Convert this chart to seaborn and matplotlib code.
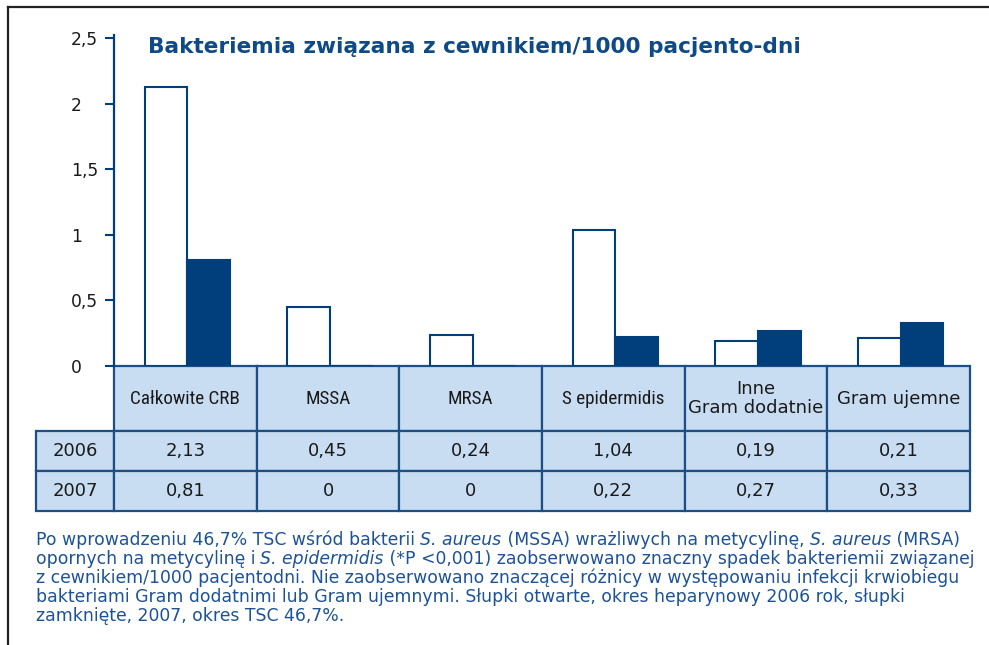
import matplotlib
matplotlib.use("Agg")
import matplotlib.pyplot as plt
import seaborn as sns
import pandas as pd
from matplotlib import font_manager as fm
from matplotlib.lines import Line2D

# ---------------- data ----------------
categories = ["Całkowite CRB", "MSSA", "MRSA", "S epidermidis",
              "Inne\nGram dodatnie", "Gram ujemne"]
years = ["2006", "2007"]
values_2006 = [2.13, 0.45, 0.24, 1.04, 0.19, 0.21]
values_2007 = [0.81, 0, 0, 0.22, 0.27, 0.33]
yticks = [0, 0.5, 1, 1.5, 2, 2.5]
ytick_labels = ["0", "0,5", "1", "1,5", "2", "2,5"]
title = "Bakteriemia związana z cewnikiem/1000 pacjento-dni"
# caption: each line is a list of (text, italic) segments
caption_segments = [
    [("Po wprowadzeniu 46,7% TSC wśród bakterii ", False), ("S. aureus", True),
     (" (MSSA) wrażliwych na metycylinę, ", False), ("S. aureus", True), (" (MRSA)", False)],
    [("opornych na metycylinę i ", False), ("S. epidermidis", True),
     (" (*P <0,001) zaobserwowano znaczny spadek bakteriemii związanej", False)],
    [("z cewnikiem/1000 pacjentodni. Nie zaobserwowano znaczącej różnicy w występowaniu infekcji krwiobiegu", False)],
    [("bakteriami Gram dodatnimi lub Gram ujemnymi. Słupki otwarte, okres heparynowy 2006 rok, słupki", False)],
    [("zamknięte, 2007, okres TSC 46,7%.", False)],
]

# ---------------- style ----------------
NAVY = "#003e7c"
EDGE = "#1d4f87"
LIGHT = "#c9ddf2"
TITLE_C = "#0e4a85"
CAPTION_C = "#1c52978"[:7]
TEXT_C = "#1a1a1a"

names = {f.name for f in fm.fontManager.ttflist}
narrow = None
narrow_stretch = "normal"
for cand in ["Liberation Sans Narrow", "Roboto Condensed", "Open Sans Condensed",
             "DejaVu Sans Condensed", "Noto Sans Condensed"]:
    if cand in names:
        narrow = cand
        break
if narrow is None:
    narrow = "DejaVu Sans"
    if any(f.name == "DejaVu Sans" and f.stretch != "normal" for f in fm.fontManager.ttflist):
        narrow_stretch = "condensed"

plt.rcParams["font.family"] = ["DejaVu Sans"]

W, H = 989, 645
fig = plt.figure(figsize=(W / 100, H / 100), dpi=100)
fig.patch.set_facecolor("white")


def fx(px):
    return px / W


def fy(py):
    return 1 - py / H


AX_L, AX_R, AX_B, AX_T = 114, 970, 366, 35.2
ax = fig.add_axes([fx(AX_L), fy(AX_B), fx(AX_R) - fx(AX_L), fy(AX_T) - fy(AX_B)])

df = pd.DataFrame({
    "cat": categories * 2,
    "year": [years[0]] * len(categories) + [years[1]] * len(categories),
    "val": values_2006 + values_2007,
})
sns.barplot(data=df, x="cat", y="val", hue="year", order=categories,
            hue_order=years, palette={years[0]: "white", years[1]: NAVY},
            width=0.6, gap=0, edgecolor=NAVY, linewidth=1.5, saturation=1,
            errorbar=None, legend=False, ax=ax)

shift = -2.0 / ((AX_R - AX_L) / len(categories))
ax.set_xlim(-0.5 + shift, len(categories) - 0.5 + shift)
ax.set_ylim(0, 2.525)
ax.set_yticks(yticks)
ax.set_yticklabels(ytick_labels)
ax.set_xticks([])
ax.set_xlabel("")
ax.set_ylabel("")
ax.tick_params(axis="y", left=True, direction="out", length=6.5, width=1.5,
               color=NAVY, pad=24.5, labelsize=12.3, labelcolor=TEXT_C)
for lab in ax.get_yticklabels():
    lab.set_horizontalalignment("left")
for s in ["top", "right", "bottom"]:
    ax.spines[s].set_visible(False)
ax.spines["left"].set_color(NAVY)
ax.spines["left"].set_linewidth(1.6)
ax.patch.set_alpha(0)

# ---------------- table ----------------
def fmt(v):
    return "0" if v == 0 else f"{v:.2f}".replace(".", ",")


cell_text = [[years[0]] + [fmt(v) for v in values_2006],
             [years[1]] + [fmt(v) for v in values_2007]]
col_labels = [""] + categories
col_px = [78] + [(AX_R - AX_L) / len(categories)] * len(categories)
tot = sum(col_px)
ax_w = AX_R - AX_L
ax_h = AX_B - AX_T
tbl = ax.table(cellText=cell_text, colLabels=col_labels,
               colWidths=[c / tot for c in col_px], cellLoc="center", colLoc="center",
               bbox=[(36 - AX_L) / ax_w, -(511 - AX_B) / ax_h, tot / ax_w, (511 - AX_B) / ax_h])
tbl.auto_set_font_size(False)
for (r, c), cell in tbl.get_celld().items():
    cell.set_height(65 if r == 0 else 40)
    cell.set_facecolor(LIGHT)
    cell.set_edgecolor(EDGE)
    cell.set_linewidth(1.6)
    t = cell.get_text()
    t.set_color(TEXT_C)
    if r == 0 and c == 0:
        cell.set_visible(False)
    elif r == 0 and 1 <= c <= 4:
        t.set_fontfamily([narrow, "DejaVu Sans"])
        t.set_fontstretch(narrow_stretch)
        t.set_fontsize(13.8)
    else:
        t.set_fontfamily(["DejaVu Sans"])
        t.set_fontsize(13)
        t.set_linespacing(1.05)

# ---------------- title ----------------
fig.text(fx(148), fy(53), title, fontsize=15.55, fontweight="bold", color=TITLE_C,
         va="baseline", ha="left")

# ---------------- caption ----------------
renderer = fig.canvas.get_renderer()


def seg_width(s, italic, size):
    kw = dict(fontsize=size, style="italic" if italic else "normal", family=["DejaVu Sans"])
    t1 = fig.text(0, 0, "x" + s + "x", **kw)
    t2 = fig.text(0, 0, "xx", **kw)
    w = t1.get_window_extent(renderer).width - t2.get_window_extent(renderer).width
    t1.remove()
    t2.remove()
    return w


base = 12.0
ref_w = seg_width(caption_segments[2][0][0], False, base)
cap_size = base * (952 - 36) / ref_w

baselines = [545, 564, 583, 602, 621]
for segs, yb in zip(caption_segments, baselines):
    xpx = 36.0
    for s, italic in segs:
        fig.text(fx(xpx), fy(yb), s, fontsize=cap_size, color=CAPTION_C,
                 family=["DejaVu Sans"], style="italic" if italic else "normal",
                 va="baseline", ha="left")
        xpx += seg_width(s, italic, cap_size)

# ---------------- frame ----------------
fig.add_artist(Line2D([fx(8), 1], [fy(7), fy(7)], transform=fig.transFigure,
                      color="#222222", lw=1.6))
fig.add_artist(Line2D([fx(8), fx(8)], [fy(7), 0], transform=fig.transFigure,
                      color="#222222", lw=1.6))

fig.savefig("out.png", dpi=100, facecolor="white")
